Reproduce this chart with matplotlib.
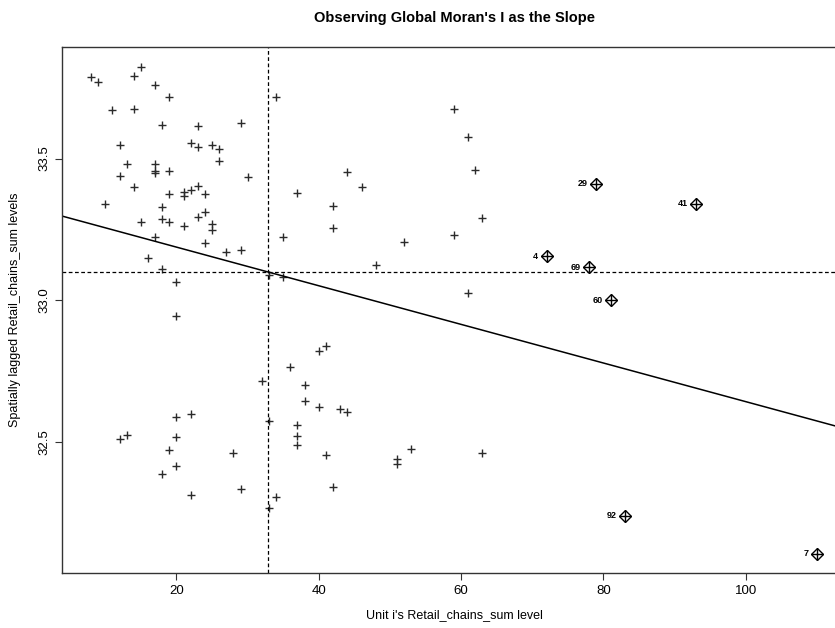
import numpy as np
import matplotlib.pyplot as plt

plt.rcParams['font.family'] = ['Liberation Sans', 'DejaVu Sans']

# units that are not flagged as influential
retail_x = [8, 9, 15, 14, 17, 19, 11, 14, 18, 23,
            29, 34, 12, 22, 23, 25, 26, 13, 17, 17,
            17, 19, 26, 12, 30, 14, 23, 22, 21, 21,
            19, 24, 37, 10, 18, 24, 23, 18, 19, 15,
            21, 25, 25, 17, 35, 24, 27, 29, 16, 18,
            20, 33, 35, 20, 36, 32, 20, 22, 33, 37,
            12, 13, 20, 19, 20, 18, 22, 28, 29, 33,
            34, 37, 37, 40, 41, 38, 38, 40, 43, 44,
            41, 51, 51, 53, 63, 42, 59, 61, 62, 63,
            59, 44, 46, 42, 42, 52, 48, 61]
lagged_y = [33.789, 33.770, 33.824, 33.790, 33.759, 33.716, 33.670, 33.674, 33.620, 33.616,
            33.626, 33.716, 33.548, 33.554, 33.541, 33.547, 33.534, 33.482, 33.480, 33.458,
            33.449, 33.457, 33.490, 33.439, 33.434, 33.401, 33.402, 33.388, 33.381, 33.369,
            33.375, 33.376, 33.377, 33.339, 33.331, 33.313, 33.295, 33.287, 33.278, 33.275,
            33.261, 33.269, 33.248, 33.222, 33.222, 33.202, 33.171, 33.177, 33.150, 33.110,
            33.064, 33.088, 33.081, 32.945, 32.764, 32.716, 32.589, 32.599, 32.575, 32.562,
            32.510, 32.525, 32.518, 32.471, 32.414, 32.386, 32.312, 32.461, 32.335, 32.268,
            32.306, 32.522, 32.491, 32.823, 32.839, 32.701, 32.645, 32.625, 32.617, 32.605,
            32.455, 32.440, 32.421, 32.476, 32.460, 32.341, 33.674, 33.577, 33.461, 33.289,
            33.231, 33.454, 33.400, 33.334, 33.254, 33.206, 33.123, 33.025]

# influential units (labelled)
infl_ids = ["4", "69", "60", "29", "41", "92", "7"]
infl_x = [72, 78, 81, 79, 93, 83, 110]
infl_y = [33.156, 33.117, 33.000, 33.411, 33.341, 32.240, 32.107]

all_x = np.array(retail_x + infl_x, dtype=float)
all_y = np.array(lagged_y + infl_y)
slope, intercept = np.polyfit(all_x, all_y, 1)

fig = plt.figure(figsize=(8.35, 6.28), dpi=100)
ax = fig.add_axes([0.0743, 0.0876, 0.9389, 0.8371])

ax.plot(retail_x, lagged_y, '+', color='#2b2b2b', ms=5.5, mew=1.0)
ax.plot(infl_x, infl_y, 'D', mfc='none', mec='black', ms=6, mew=1.0)
ax.plot(infl_x, infl_y, '+', color='black', ms=9, mew=1.0)
for lab, x, y in zip(infl_ids, infl_x, infl_y):
    ax.annotate(lab, (x, y), xytext=(-6, 0), textcoords='offset points',
                ha='right', va='center', fontsize=6.5, weight='bold')

# R style axis range: data range +- 4%
xr = all_x.max() - all_x.min()
yr = all_y.max() - all_y.min()
xlim = (all_x.min() - 0.04 * xr, all_x.max() + 0.04 * xr)
ax.set_xlim(xlim)
ax.set_ylim(all_y.min() - 0.04 * yr, all_y.max() + 0.04 * yr)

ax.axvline(all_x.mean(), ls=(0, (3, 2)), lw=0.9, color='black')
ax.axhline(all_y.mean(), ls=(0, (3, 2)), lw=0.9, color='black')
xs = np.array(xlim)
ax.plot(xs, intercept + slope * xs, color='black', lw=1.1)

ax.set_xticks([20, 40, 60, 80, 100])
ax.set_yticks([32.5, 33.0, 33.5])
ax.set_yticklabels(["32.5", "33.0", "33.5"], rotation=90, va='center')
ax.tick_params(direction='out', length=5, width=0.8, labelsize=9.5, color='#333333')
for s in ax.spines.values():
    s.set_color('#333333')
    s.set_linewidth(1)

fig.text(454 / 835, 1 - 18 / 628, "Observing Global Moran's I as the Slope",
         ha='center', va='center', fontsize=10.5, weight='bold')
fig.text(454 / 835, 1 - 615 / 628, "Unit i's Retail_chains_sum level",
         ha='center', va='center', fontsize=9)
fig.text(15 / 835, 1 - 310 / 628, "Spatially lagged Retail_chains_sum levels",
         ha='center', va='center', fontsize=9, rotation=90)

fig.savefig("out.png", dpi=100)
